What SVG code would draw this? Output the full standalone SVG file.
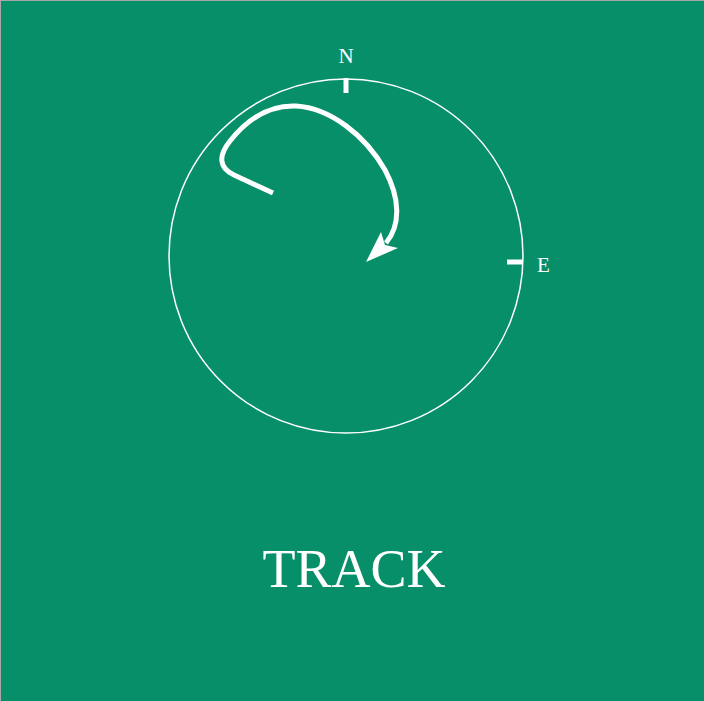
<svg xmlns="http://www.w3.org/2000/svg" width="704" height="701" viewBox="0 0 704 701">
<style>
.lbl{font-family:"Liberation Serif","Times New Roman",serif;fill:#fff;}
.tick{stroke:#fff;stroke-width:5;}
</style>
<rect width="704" height="701" fill="#078F69"/>
<path d="M0,0.5H704M0.5,0V701" stroke="#A8A8A8" stroke-width="1"/>
<g id="compass">
<circle cx="346" cy="256" r="177" fill="none" stroke="#fff" stroke-width="1.5"/>
<line class="tick" x1="346" y1="78" x2="346" y2="93"/>
<line class="tick" x1="507" y1="262" x2="522" y2="262"/>
<text class="lbl" x="346" y="63" font-size="21" text-anchor="middle">N</text>
<text class="lbl" x="537" y="272" font-size="21">E</text>
</g>
<g id="connectors">
<path d="M273,193 L234,175 C219,168 218,156 230,141 C249,117 272,105 296,106 C330,108 365,135 385,170 C400,198 401,225 386,243" fill="none" stroke="#fff" stroke-width="5"/>
<polygon points="366,262 381,232 385,245 398,248" fill="#fff"/>
</g>
<g id="title">
<text class="lbl" x="354" y="587" font-size="54" text-anchor="middle">TRACK</text>
</g>
</svg>
